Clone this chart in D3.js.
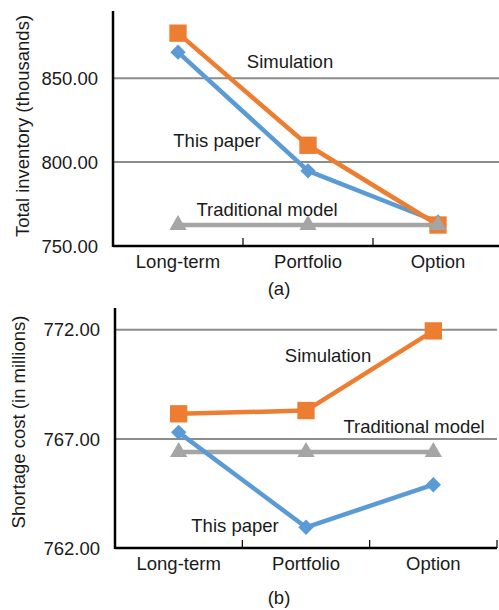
<!DOCTYPE html>
<html>
<head>
<meta charset="utf-8">
<script src="https://cdn.jsdelivr.net/npm/d3@7"></script>
<style>
  body { margin: 0; background: #fff; }
  svg { display: block; font-family: "Liberation Sans", Arial, sans-serif; }
  .tick-label, .cat-label, .series-label, .axis-title, .panel-label { font-size: 18.5px; fill: #1a1a1a; }
</style>
</head>
<body>
<svg width="499" height="610"></svg>
<script>
var categories = ["Long-term", "Portfolio", "Option"];

// (a) total inventory, thousands
var invThisPaper   = [865.5, 794.8, 764.3];
var invSimulation  = [876.8, 810.0, 762.5];
var invTraditional = [762.5, 762.5, 762.5];
var invTicks = [750, 800, 850];

// (b) shortage cost, millions
var costThisPaper   = [767.3, 762.95, 764.9];
var costSimulation  = [768.15, 768.3, 771.95];
var costTraditional = [766.4, 766.4, 766.4];
var costTicks = [762, 767, 772];

var blue = "#5b9bd5", orange = "#ed7d31", gray = "#a5a5a5";

var svg = d3.select("svg");

function drawPanel(opt) {
    var g = svg.append("g");

    var x = d3.scaleBand()
        .domain(categories)
        .range([opt.left, opt.right]);

    var y = d3.scaleLinear()
        .domain(opt.domain)
        .range([opt.bottom, opt.top]);

    // gridlines
    g.selectAll(".grid")
        .data(opt.ticks.slice(1))
        .enter()
        .append("line")
        .attr("x1", opt.left)
        .attr("x2", opt.right)
        .attr("y1", d => y(d))
        .attr("y2", d => y(d))
        .attr("stroke", "#8c8c8c")
        .attr("stroke-width", 2);

    // y tick labels
    g.selectAll(".tick-label")
        .data(opt.ticks)
        .enter()
        .append("text")
        .attr("class", "tick-label")
        .attr("x", opt.left - 15)
        .attr("y", d => y(d))
        .attr("dy", "0.36em")
        .attr("text-anchor", "end")
        .text(d => d.toFixed(2));

    // x axis with inward category ticks
    var xAxis = g.append("g")
        .attr("transform", "translate(0," + opt.bottom + ")");
    xAxis.append("line")
        .attr("x1", opt.left).attr("x2", opt.right)
        .attr("stroke", "#000").attr("stroke-width", 2.5);
    xAxis.selectAll(".xt")
        .data(categories.slice(1).concat(["end"]))
        .enter()
        .append("line")
        .attr("x1", (d, i) => opt.left + x.step() * (i + 1))
        .attr("x2", (d, i) => opt.left + x.step() * (i + 1))
        .attr("y1", 0).attr("y2", -8)
        .attr("stroke", "#000").attr("stroke-width", 1.2);
    xAxis.selectAll(".cat-label")
        .data(categories)
        .enter()
        .append("text")
        .attr("class", "cat-label")
        .attr("x", d => x(d) + x.bandwidth() / 2)
        .attr("y", 22)
        .attr("text-anchor", "middle")
        .text(d => d);

    // y axis line
    g.append("line")
        .attr("x1", opt.left).attr("x2", opt.left)
        .attr("y1", opt.top).attr("y2", opt.bottom + 1)
        .attr("stroke", "#000").attr("stroke-width", 2.5);

    var line = d3.line()
        .x((d, i) => x(categories[i]) + x.bandwidth() / 2)
        .y(d => y(d));

    opt.series.forEach(function(s) {
        g.append("path")
            .datum(s.values)
            .attr("d", line)
            .attr("fill", "none")
            .attr("stroke", s.color)
            .attr("stroke-width", 4.5)
            .attr("stroke-linejoin", "round");

        var sym = s.shape == "square" ? d3.symbolSquare
            : s.shape == "diamond" ? d3.symbolDiamond2 : d3.symbolTriangle;
        var size = s.shape == "square" ? 300 : s.shape == "diamond" ? 150 : 130;

        g.selectAll(null)
            .data(s.values)
            .enter()
            .append("path")
            .attr("d", d3.symbol().type(sym).size(size))
            .attr("transform", (d, i) => "translate(" + (x(categories[i]) + x.bandwidth() / 2) + "," + y(d) + ")")
            .attr("fill", s.color);
    });

    opt.labels.forEach(function(l) {
        g.append("text")
            .attr("class", "series-label")
            .attr("x", l.x)
            .attr("y", l.y)
            .attr("text-anchor", "middle")
            .text(l.text);
    });

    g.append("text")
        .attr("class", "axis-title")
        .attr("transform", "translate(" + opt.titleX + "," + opt.titleY + ") rotate(-90)")
        .attr("text-anchor", "middle")
        .attr("dy", "0.36em")
        .text(opt.title);

    g.append("text")
        .attr("class", "panel-label")
        .attr("x", 279)
        .attr("y", opt.panelY)
        .attr("text-anchor", "middle")
        .text(opt.panel);
}

drawPanel({
    left: 113, right: 503, top: 11, bottom: 246,
    domain: [750, 890], ticks: invTicks,
    title: "Total inventory (thousands)", titleX: 22, titleY: 126,
    panel: "(a)", panelY: 295,
    series: [
        {values: invThisPaper, color: blue, shape: "diamond"},
        {values: invSimulation, color: orange, shape: "square"},
        {values: invTraditional, color: gray, shape: "triangle"}
    ],
    labels: [
        {text: "Simulation", x: 290, y: 68},
        {text: "This paper", x: 217, y: 147},
        {text: "Traditional model", x: 267, y: 216}
    ]
});

drawPanel({
    left: 115, right: 497, top: 308, bottom: 548,
    domain: [762, 773], ticks: costTicks,
    title: "Shortage cost (in millions)", titleX: 18, titleY: 422,
    panel: "(b)", panelY: 604,
    series: [
        {values: costTraditional, color: gray, shape: "triangle"},
        {values: costThisPaper, color: blue, shape: "diamond"},
        {values: costSimulation, color: orange, shape: "square"}
    ],
    labels: [
        {text: "Simulation", x: 328, y: 362},
        {text: "Traditional model", x: 414, y: 433},
        {text: "This paper", x: 235, y: 532}
    ]
});
</script>
</body>
</html>
